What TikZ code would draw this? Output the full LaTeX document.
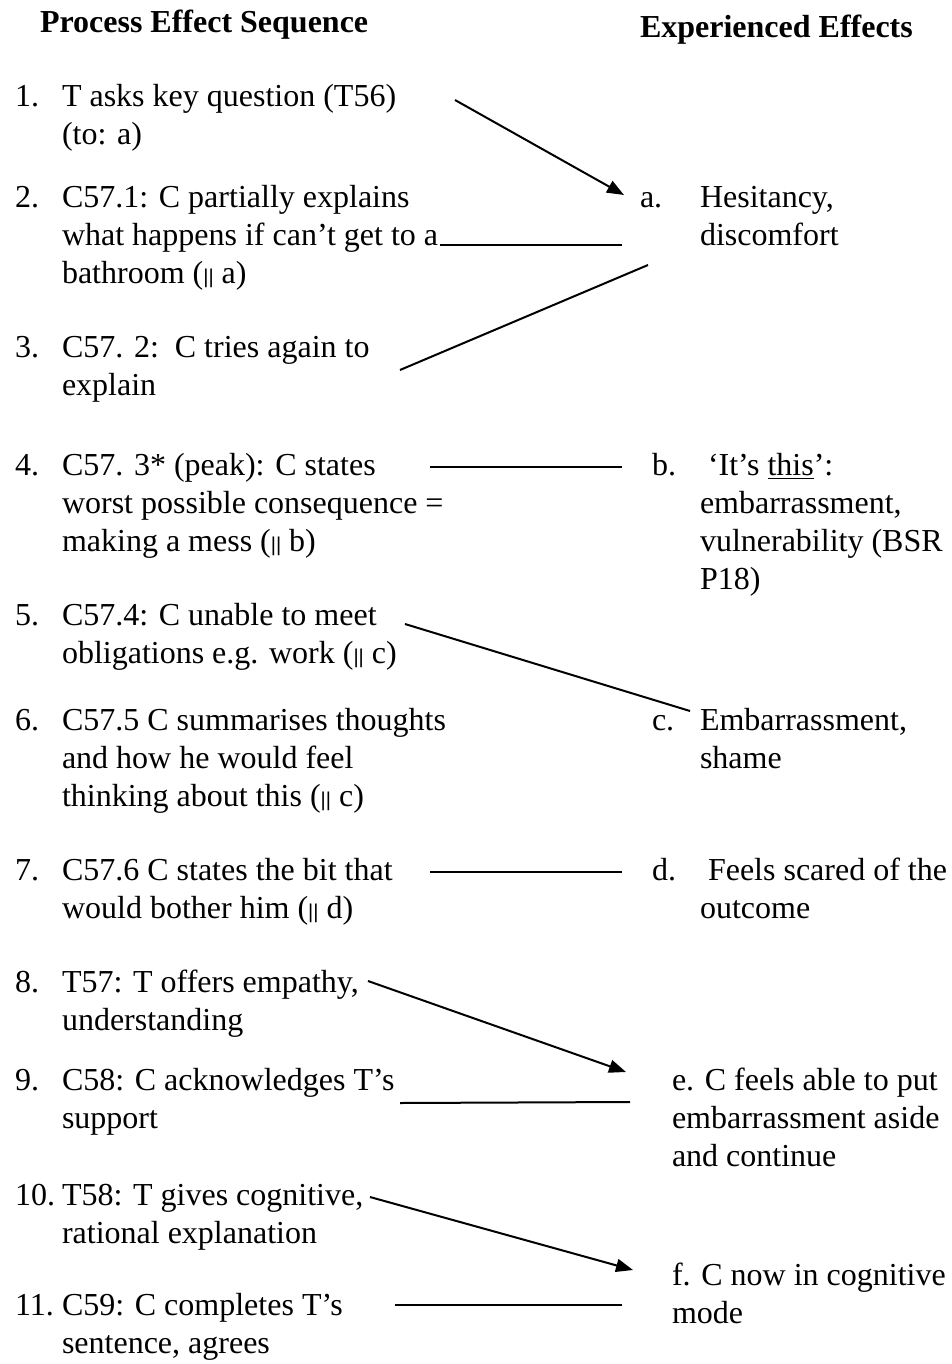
\documentclass[tikz,border=0pt]{standalone}
\usepackage{fontspec}
\setmainfont{Liberation Serif}
\newfontfamily\barfont{Liberation Sans}
\usetikzlibrary{arrows.meta}
% small parallel bars used in the step texts
\newcommand{\pll}{{\barfont\fontsize{10}{10}\selectfont ||}}
% left-aligned block whose reference point is the first baseline
\newcommand{\rows}[1]{\begin{tabular}[t]{@{}l@{}}#1\end{tabular}}
\begin{document}
\begin{tikzpicture}[x=0.5pt,y=-0.5pt,
  every node/.style={inner sep=0pt,outer sep=0pt},
  txt/.style={anchor=base west,font=\fontsize{16}{19}\selectfont},
  head/.style={anchor=base west,font=\fontsize{16}{19}\selectfont\bfseries},
  link/.style={line width=1pt},
  arr/.style={line width=1pt,-{Triangle[length=8.5pt,width=6.5pt]}}]
\useasboundingbox (0,0) rectangle (952,1364);

% column headings
\node[head] (hl) at (40,33) {Process Effect Sequence};
\node[head] (hr) at (640,38) {Experienced Effects};

% process steps
\node[txt] (n1) at (15,107) {1.};
\node[txt] (s1) at (62,107) {\rows{T asks key question (T56)\\(to: a)}};
\node[txt] (n2) at (15,208) {2.};
\node[txt] (s2) at (62,208) {\rows{C57.1: C partially explains\\what happens if can’t get to a\\bathroom (\pll{} a)}};
\node[txt] (n3) at (15,357) {3.};
\node[txt] (s3) at (62,357) {\rows{C57. 2:\ \ C tries again to\\explain}};
\node[txt] (n4) at (15,475) {4.};
\node[txt] (s4) at (62,475) {\rows{C57. 3* (peak): C states\\worst possible consequence =\\making a mess (\pll{} b)}};
\node[txt] (n5) at (15,625) {5.};
\node[txt] (s5) at (62,625) {\rows{C57.4: C unable to meet\\obligations e.g. work (\pll{} c)}};
\node[txt] (n6) at (15,730) {6.};
\node[txt] (s6) at (62,730) {\rows{C57.5 C summarises thoughts\\and how he would feel\\thinking about this (\pll{} c)}};
\node[txt] (n7) at (15,880) {7.};
\node[txt] (s7) at (62,880) {\rows{C57.6 C states the bit that\\would bother him (\pll{} d)}};
\node[txt] (n8) at (15,992) {8.};
\node[txt] (s8) at (62,992) {\rows{T57: T offers empathy,\\understanding}};
\node[txt] (n9) at (15,1090) {9.};
\node[txt] (s9) at (62,1090) {\rows{C58: C acknowledges T’s\\support}};
\node[txt] (n10) at (15,1205) {10.};
\node[txt] (s10) at (62,1205) {\rows{T58: T gives cognitive,\\rational explanation}};
\node[txt] (n11) at (15,1315) {11.};
\node[txt] (s11) at (62,1315) {\rows{C59: C completes T’s\\sentence, agrees}};

% experienced effects
\node[txt] (la) at (640,208) {a.};
\node[txt] (ea) at (700,208) {\rows{Hesitancy,\\discomfort}};
\node[txt] (lb) at (652,475) {b.};
\node[txt] (eb) at (700,475) {\rows{\ ‘It’s \underline{this}’:\\embarrassment,\\vulnerability (BSR\\P18)}};
\node[txt] (lc) at (652,730) {c.};
\node[txt] (ec) at (700,730) {\rows{Embarrassment,\\shame}};
\node[txt] (ld) at (652,880) {d.};
\node[txt] (ed) at (700,880) {\rows{\ Feels scared of the\\outcome}};
\node[txt] (ee) at (672,1090) {\rows{e. C feels able to put\\embarrassment aside\\and continue}};
\node[txt] (ef) at (672,1285) {\rows{f. C now in cognitive\\mode}};

% connector end points
\coordinate (c1a) at (455,100);  \coordinate (c1b) at (624,195);
\coordinate (c2a) at (440,245);  \coordinate (c2b) at (622,245);
\coordinate (c3a) at (400,370);  \coordinate (c3b) at (648,265);
\coordinate (c4a) at (430,467);  \coordinate (c4b) at (622,467);
\coordinate (c5a) at (405,624);  \coordinate (c5b) at (690,711);
\coordinate (c7a) at (430,872);  \coordinate (c7b) at (622,872);
\coordinate (c8a) at (368,981);  \coordinate (c8b) at (626,1072);
\coordinate (c9a) at (400,1103); \coordinate (c9b) at (630,1102);
\coordinate (c10a) at (370,1197);\coordinate (c10b) at (633,1270);
\coordinate (c11a) at (395,1305);\coordinate (c11b) at (622,1305);

\draw[arr]  (c1a) -- (c1b);
\draw[link] (c2a) -- (c2b);
\draw[link] (c3a) -- (c3b);
\draw[link] (c4a) -- (c4b);
\draw[link] (c5a) -- (c5b);
\draw[link] (c7a) -- (c7b);
\draw[arr]  (c8a) -- (c8b);
\draw[link] (c9a) -- (c9b);
\draw[arr]  (c10a) -- (c10b);
\draw[link] (c11a) -- (c11b);
\end{tikzpicture}
\end{document}
